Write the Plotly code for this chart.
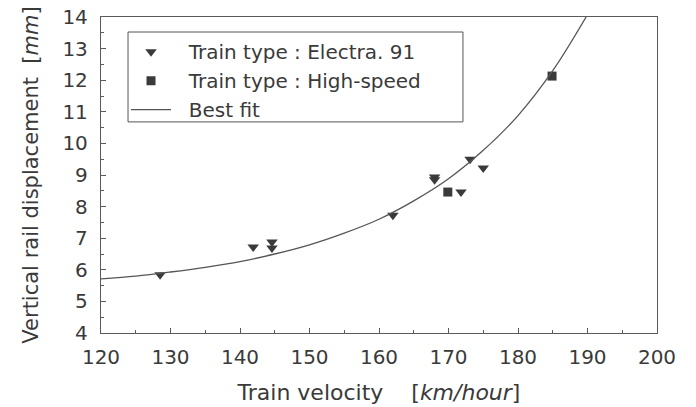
import plotly.graph_objects as go

# Data
electra_v = [128.5, 141.9, 144.6, 144.6, 162.0, 168.0, 168.0, 171.8, 173.1, 175.0]
electra_d = [5.84, 6.72, 6.88, 6.69, 7.73, 8.94, 8.85, 8.46, 9.50, 9.22]

hs_v = [169.9, 184.9]
hs_d = [8.46, 12.13]

fit_v = [120, 125, 130, 135, 140, 145, 150, 155, 160, 165, 170, 175, 180, 185, 189.8]
fit_d = [5.71, 5.80, 5.93, 6.08, 6.26, 6.50, 6.79, 7.16, 7.60, 8.18, 8.88, 9.78, 10.88, 12.30, 14.0]

x_ticks = [120, 130, 140, 150, 160, 170, 180, 190, 200]
y_ticks = [4, 5, 6, 7, 8, 9, 10, 11, 12, 13, 14]

series_names = ["Train type : Electra. 91", "Train type : High-speed", "Best fit"]

FONT = "DejaVu Sans, Liberation Sans, Arial, sans-serif"
INK = "#3a3a3a"
AX = "#5a5a5a"
PAD = "\u00a0\u00a0"  # gap between legend symbol and label, as in the reference

fig = go.Figure()
fig.add_trace(go.Scatter(
    x=electra_v, y=electra_d, mode="markers", name=PAD + series_names[0],
    marker=dict(symbol="triangle-down", size=10, color=INK)))
fig.add_trace(go.Scatter(
    x=hs_v, y=hs_d, mode="markers", name=PAD + series_names[1],
    marker=dict(symbol="square", size=9, color=INK)))
fig.add_trace(go.Scatter(
    x=fit_v, y=fit_d, mode="lines", name=PAD + series_names[2],
    line=dict(color="#555555", width=1.3, shape="spline", smoothing=1.0)))

axis_common = dict(
    showgrid=False, zeroline=False, showline=True, mirror=True,
    linecolor=AX, linewidth=1.3, automargin=False,
    ticks="inside", ticklen=5, tickcolor=AX, tickwidth=1,
    tickfont=dict(family=FONT, size=20, color=INK),
)

# legend frame (wider than Plotly's auto legend box)
fig.add_shape(type="rect", xref="paper", yref="paper",
              x0=0.0486, x1=0.651, y0=0.668, y1=0.9525,
              line=dict(color="#555555", width=1), fillcolor="white", layer="above")

fig.update_layout(
    width=696, height=407,
    margin=dict(l=101, r=39, t=17, b=74),
    paper_bgcolor="white", plot_bgcolor="white",
    font=dict(family=FONT, color=INK),
    showlegend=True,
    legend=dict(
        x=0.045, y=0.952, xanchor="left", yanchor="top",
        bgcolor="rgba(0,0,0,0)", borderwidth=0,
        font=dict(family=FONT, size=20, color=INK),
        itemwidth=40,
        tracegroupgap=0,
    ),
    xaxis=dict(
        range=[120, 200], tickvals=x_ticks,
        minor=dict(ticks="inside", ticklen=3, dtick=5, tickcolor=AX),
        ticklabelstandoff=6,
        title=dict(text="Train velocity    [<i>km/hour</i>]",
                   font=dict(family=FONT, size=22, color=INK), standoff=16),
        **axis_common,
    ),
    yaxis=dict(
        range=[4, 14], tickvals=y_ticks,
        minor=dict(ticks="inside", ticklen=3, dtick=0.5, tickcolor=AX),
        ticklabelstandoff=8,
        title=dict(text="Vertical rail displacement  [<i>mm</i>]",
                   font=dict(family=FONT, size=21, color=INK), standoff=18),
        **axis_common,
    ),
)

fig.write_html("out.html")
